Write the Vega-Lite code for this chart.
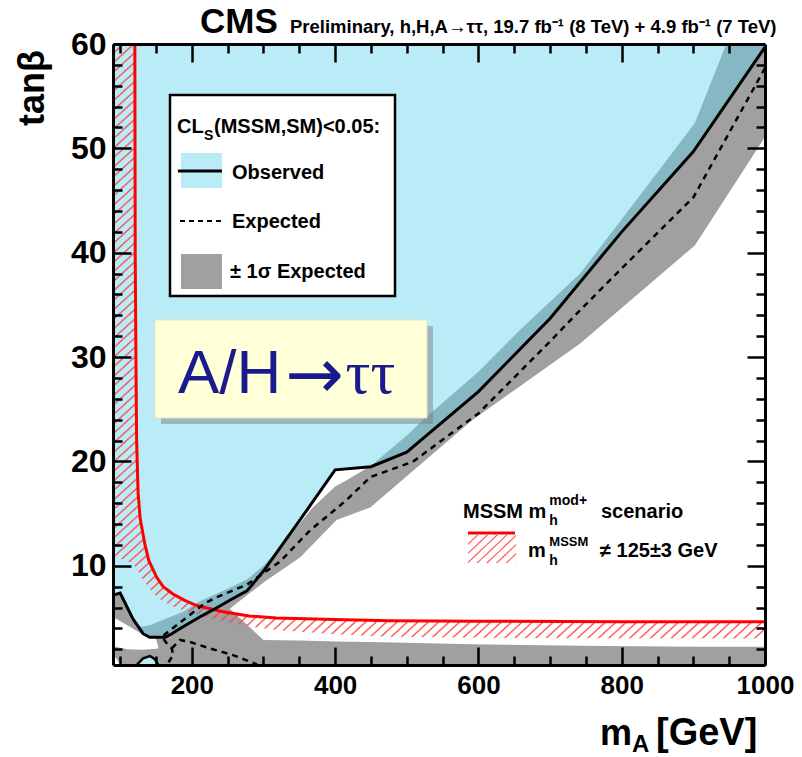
{
"$schema":"https://vega.github.io/schema/vega-lite/v6.json",
"width":652,"height":621,
"autosize":{"type":"none"},
"padding":{"left":113,"top":44,"right":37,"bottom":92},
"background":"white",
"config":{"view":{"stroke":null},"axis":{"disable":true},"font":"Liberation Sans","text":{"font":"Liberation Sans","color":"black"}},
"resolve":{"axis":{"x":"independent","y":"independent"}},
"datasets":{
"band":[{"m":90,"u":7.2},{"m":100,"u":7.35},{"m":118,"u":4.85},{"m":127,"u":4.15},{"m":141,"u":4.3},{"m":188,"u":5.6},{"m":211,"u":6.6},{"m":253,"u":7.9},{"m":277,"u":8.7},{"m":300,"u":10.0},{"m":323,"u":11.7},{"m":337,"u":12.9},{"m":369,"u":15.6},{"m":400,"u":17.6},{"m":416,"u":18.2},{"m":450,"u":19.6},{"m":500,"u":22.5},{"m":528,"u":24.3},{"m":600,"u":28.6},{"m":658,"u":32.6},{"m":700,"u":35.3},{"m":742,"u":38.0},{"m":800,"u":43.2},{"m":902,"u":52.4},{"m":946,"u":60},{"m":1000,"u":60}],
"gap":[{"m":253,"lo":5.9,"hi":5.9},{"m":300,"lo":2.9,"hi":8.4},{"m":351,"lo":2.85,"hi":10.8},{"m":402,"lo":2.75,"hi":14.4},{"m":449,"lo":2.7,"hi":15.6},{"m":592,"lo":2.5,"hi":24.0},{"m":742,"lo":2.35,"hi":31.3},{"m":902,"lo":2.25,"hi":40.7},{"m":1000,"lo":2.25,"hi":51.1}],
"gap2":[{"m":90,"lo":2.3,"hi":5.1},{"m":110,"lo":2.0,"hi":4.3},{"m":132,"lo":1.95,"hi":3.4},{"m":141,"lo":2.0,"hi":3.1},{"m":150,"lo":2.05,"hi":3.05},{"m":153.5,"lo":2.1,"hi":2.1}],
"corner":[{"m":90,"lo":0.5,"hi":1.4},{"m":95,"lo":0.5,"hi":1.1},{"m":100,"lo":0.5,"hi":0.5}],
"obs":[{"m":90,"t":7.2},{"m":100,"t":7.4},{"m":118,"t":4.9},{"m":132,"t":3.5},{"m":141,"t":3.15},{"m":163,"t":3.15},{"m":172,"t":3.5},{"m":186,"t":4.1},{"m":211,"t":5.1},{"m":230,"t":5.8},{"m":253,"t":6.7},{"m":277,"t":7.6},{"m":300,"t":9.5},{"m":350,"t":14.3},{"m":400,"t":19.2},{"m":450,"t":19.5},{"m":500,"t":20.9},{"m":600,"t":26.7},{"m":700,"t":33.7},{"m":800,"t":42.0},{"m":900,"t":49.7},{"m":1000,"t":59.7}],
"island":[{"m":123,"t":0.5},{"m":132,"t":1.14},{"m":141.6,"t":1.36},{"m":148.6,"t":1.05},{"m":153.2,"t":0.5}],
"hatch":[{"m":90,"top":60,"bot":10.8},{"m":105,"top":60,"bot":10.6},{"m":118,"top":60,"bot":10.2},{"m":120.5,"top":60,"bot":10.0},{"m":121,"top":40,"bot":9.95},{"m":122,"top":30,"bot":9.85},{"m":123,"top":22,"bot":9.7},{"m":125,"top":17,"bot":9.5},{"m":128,"top":14.5,"bot":9.1},{"m":134.7,"top":12,"bot":8.4},{"m":140,"top":10.5,"bot":7.9},{"m":151,"top":8.9,"bot":7.05},{"m":160,"top":8.0,"bot":6.6},{"m":173.7,"top":7.3,"bot":6.1},{"m":190,"top":6.7,"bot":5.7},{"m":206.8,"top":6.2,"bot":5.35},{"m":243.5,"top":5.6,"bot":4.65},{"m":280,"top":5.2,"bot":4.2},{"m":318,"top":5.0,"bot":3.85},{"m":400,"top":4.85,"bot":3.45},{"m":476.6,"top":4.75,"bot":3.2},{"m":600,"top":4.7,"bot":3.1},{"m":800,"top":4.65,"bot":3.07},{"m":1000,"top":4.65,"bot":3.05}],
"red":[{"m":120.5,"t":60},{"m":121,"t":40},{"m":122,"t":30},{"m":123,"t":22},{"m":125,"t":17},{"m":128,"t":14.5},{"m":134.7,"t":12},{"m":140,"t":10.5},{"m":151,"t":8.9},{"m":160,"t":8.0},{"m":173.7,"t":7.3},{"m":190,"t":6.7},{"m":206.8,"t":6.2},{"m":243.5,"t":5.6},{"m":280,"t":5.2},{"m":318,"t":5.0},{"m":400,"t":4.85},{"m":476.6,"t":4.75},{"m":600,"t":4.7},{"m":800,"t":4.65},{"m":1000,"t":4.65}],
"exp1":[{"i":1,"m":1000,"t":57.7},{"i":2,"m":900,"t":45.3},{"i":3,"m":800,"t":38.5},{"i":4,"m":742,"t":34.5},{"i":5,"m":700,"t":31.5},{"i":6,"m":600,"t":24.6},{"i":7,"m":509,"t":20.0},{"i":8,"m":449,"t":18.5},{"i":9,"m":416,"t":16.3},{"i":10,"m":365,"t":13.4},{"i":11,"m":323,"t":10.4},{"i":12,"m":277,"t":8.2},{"i":13,"m":235,"t":7.0},{"i":14,"m":218,"t":6.4},{"i":15,"m":190,"t":4.9},{"i":16,"m":158,"t":3.2},{"i":17,"m":167,"t":2.4},{"i":18,"m":172,"t":2.1},{"i":19,"m":174,"t":1.45},{"i":20,"m":165,"t":0.5}],
"exp2":[{"m":172,"t":2.1},{"m":183.5,"t":2.9},{"m":197.5,"t":2.7},{"m":225,"t":2.1},{"m":257.5,"t":1.45},{"m":291,"t":0.55}]
},
"layer":[
{"data":{"name":"band"},"mark":{"type":"area","color":"#a0a0a0","opacity":1},
 "encoding":{"x":{"field":"m","type":"quantitative","scale":{"domain":[90,1000],"nice":false,"zero":false},
   "axis":{"orient":"bottom","values":[200,400,600,800,1000],"format":"d","tickSize":-18,"tickWidth":2.5,"tickColor":"black","domain":true,"domainWidth":3,"domainColor":"black","grid":false,"title":null,"labelFont":"Liberation Sans","labelFontSize":26,"labelFontWeight":"bold","labelColor":"black","labelPadding":25,"labelFlush":false,"labelOverlap":false,"labelBound":false,"zindex":1}},
  "y":{"field":"u","type":"quantitative","scale":{"domain":[0.5,60],"nice":false,"zero":false},
   "axis":{"orient":"left","values":[10,20,30,40,50,60],"format":"d","tickSize":-18,"tickWidth":2.5,"tickColor":"black","domain":true,"domainWidth":3,"domainColor":"black","grid":false,"title":null,"labelFont":"Liberation Sans","labelFontSize":32,"labelFontWeight":"bold","labelColor":"black","labelPadding":25,"labelFlush":false,"labelOverlap":false,"labelBound":false,"zindex":1}},
  "y2":{"datum":0.5}}},
{"data":{"name":"gap"},"mark":{"type":"area","color":"white","opacity":1},
 "encoding":{"x":{"field":"m","type":"quantitative",
   "axis":{"orient":"top","values":[200,400,600,800],"tickSize":-18,"tickWidth":2.5,"tickColor":"black","labels":false,"domain":true,"domainWidth":3,"domainColor":"black","grid":false,"title":null,"zindex":1}},
  "y":{"field":"hi","type":"quantitative",
   "axis":{"orient":"right","values":[10,20,30,40,50],"tickSize":-18,"tickWidth":2.5,"tickColor":"black","labels":false,"domain":true,"domainWidth":3,"domainColor":"black","grid":false,"title":null,"zindex":1}},
  "y2":{"field":"lo"}}},
{"data":{"name":"gap2"},"mark":{"type":"area","color":"white","opacity":1},
 "encoding":{"x":{"field":"m","type":"quantitative",
   "axis":{"orient":"bottom","values":[100,150,250,300,350,450,500,550,650,700,750,850,900,950],"tickSize":-9,"tickWidth":2.5,"tickColor":"black","labels":false,"domain":false,"grid":false,"title":null,"zindex":1}},
  "y":{"field":"hi","type":"quantitative",
   "axis":{"orient":"left","values":[2,4,6,8,12,14,16,18,22,24,26,28,32,34,36,38,42,44,46,48,52,54,56,58],"tickSize":-9,"tickWidth":2.5,"tickColor":"black","labels":false,"domain":false,"grid":false,"title":null,"zindex":1}},
  "y2":{"field":"lo"}}},
{"data":{"name":"corner"},"mark":{"type":"area","color":"white","opacity":1},
 "encoding":{"x":{"field":"m","type":"quantitative",
   "axis":{"orient":"top","values":[100,150,250,300,350,450,500,550,650,700,750,850,900,950],"tickSize":-9,"tickWidth":2.5,"tickColor":"black","labels":false,"domain":false,"grid":false,"title":null,"zindex":1}},
  "y":{"field":"hi","type":"quantitative",
   "axis":{"orient":"right","values":[2,4,6,8,12,14,16,18,22,24,26,28,32,34,36,38,42,44,46,48,52,54,56,58],"tickSize":-9,"tickWidth":2.5,"tickColor":"black","labels":false,"domain":false,"grid":false,"title":null,"zindex":1}},
  "y2":{"field":"lo"}}},
{"data":{"name":"obs"},"mark":{"type":"area","color":"#64d5ed","opacity":0.45},
 "encoding":{"x":{"field":"m","type":"quantitative"},"y":{"field":"t","type":"quantitative"},"y2":{"datum":60}}},
{"data":{"name":"island"},"mark":{"type":"area","color":"#b9ecf7","opacity":1},
 "encoding":{"x":{"field":"m","type":"quantitative"},"y":{"field":"t","type":"quantitative"},"y2":{"datum":0.5}}},
{"data":{"name":"hatch"},"mark":{"type":"area","opacity":1,"fill":{"gradient":"linear","x1":0,"y1":0,"x2":1,"y2":1,"stops":[
{"offset":0,"color":"#ff4848"},{"offset":0.0015,"color":"rgba(255,72,72,0)"},{"offset":0.0065,"color":"rgba(255,72,72,0)"},
{"offset":0.008,"color":"#ff4848"},{"offset":0.0095,"color":"rgba(255,72,72,0)"},{"offset":0.0145,"color":"rgba(255,72,72,0)"},
{"offset":0.016,"color":"#ff4848"},{"offset":0.0175,"color":"rgba(255,72,72,0)"},{"offset":0.0225,"color":"rgba(255,72,72,0)"},
{"offset":0.024,"color":"#ff4848"},{"offset":0.0255,"color":"rgba(255,72,72,0)"},{"offset":0.0305,"color":"rgba(255,72,72,0)"},
{"offset":0.032,"color":"#ff4848"},{"offset":0.0335,"color":"rgba(255,72,72,0)"},{"offset":0.0385,"color":"rgba(255,72,72,0)"},
{"offset":0.04,"color":"#ff4848"},{"offset":0.0415,"color":"rgba(255,72,72,0)"},{"offset":0.0465,"color":"rgba(255,72,72,0)"},
{"offset":0.048,"color":"#ff4848"},{"offset":0.0495,"color":"rgba(255,72,72,0)"},{"offset":0.0545,"color":"rgba(255,72,72,0)"},
{"offset":0.056,"color":"#ff4848"},{"offset":0.0575,"color":"rgba(255,72,72,0)"},{"offset":0.0625,"color":"rgba(255,72,72,0)"},
{"offset":0.064,"color":"#ff4848"},{"offset":0.0655,"color":"rgba(255,72,72,0)"},{"offset":0.0705,"color":"rgba(255,72,72,0)"},
{"offset":0.072,"color":"#ff4848"},{"offset":0.0735,"color":"rgba(255,72,72,0)"},{"offset":0.0785,"color":"rgba(255,72,72,0)"},
{"offset":0.08,"color":"#ff4848"},{"offset":0.0815,"color":"rgba(255,72,72,0)"},{"offset":0.0865,"color":"rgba(255,72,72,0)"},
{"offset":0.088,"color":"#ff4848"},{"offset":0.0895,"color":"rgba(255,72,72,0)"},{"offset":0.0945,"color":"rgba(255,72,72,0)"},
{"offset":0.096,"color":"#ff4848"},{"offset":0.0975,"color":"rgba(255,72,72,0)"},{"offset":0.1025,"color":"rgba(255,72,72,0)"},
{"offset":0.104,"color":"#ff4848"},{"offset":0.1055,"color":"rgba(255,72,72,0)"},{"offset":0.1105,"color":"rgba(255,72,72,0)"},
{"offset":0.112,"color":"#ff4848"},{"offset":0.1135,"color":"rgba(255,72,72,0)"},{"offset":0.1185,"color":"rgba(255,72,72,0)"},
{"offset":0.12,"color":"#ff4848"},{"offset":0.1215,"color":"rgba(255,72,72,0)"},{"offset":0.1265,"color":"rgba(255,72,72,0)"},
{"offset":0.128,"color":"#ff4848"},{"offset":0.1295,"color":"rgba(255,72,72,0)"},{"offset":0.1345,"color":"rgba(255,72,72,0)"},
{"offset":0.136,"color":"#ff4848"},{"offset":0.1375,"color":"rgba(255,72,72,0)"},{"offset":0.1425,"color":"rgba(255,72,72,0)"},
{"offset":0.144,"color":"#ff4848"},{"offset":0.1455,"color":"rgba(255,72,72,0)"},{"offset":0.1505,"color":"rgba(255,72,72,0)"},
{"offset":0.152,"color":"#ff4848"},{"offset":0.1535,"color":"rgba(255,72,72,0)"},{"offset":0.1585,"color":"rgba(255,72,72,0)"},
{"offset":0.16,"color":"#ff4848"},{"offset":0.1615,"color":"rgba(255,72,72,0)"},{"offset":0.1665,"color":"rgba(255,72,72,0)"},
{"offset":0.168,"color":"#ff4848"},{"offset":0.1695,"color":"rgba(255,72,72,0)"},{"offset":0.1745,"color":"rgba(255,72,72,0)"},
{"offset":0.176,"color":"#ff4848"},{"offset":0.1775,"color":"rgba(255,72,72,0)"},{"offset":0.1825,"color":"rgba(255,72,72,0)"},
{"offset":0.184,"color":"#ff4848"},{"offset":0.1855,"color":"rgba(255,72,72,0)"},{"offset":0.1905,"color":"rgba(255,72,72,0)"},
{"offset":0.192,"color":"#ff4848"},{"offset":0.1935,"color":"rgba(255,72,72,0)"},{"offset":0.1985,"color":"rgba(255,72,72,0)"},
{"offset":0.2,"color":"#ff4848"},{"offset":0.2015,"color":"rgba(255,72,72,0)"},{"offset":0.2065,"color":"rgba(255,72,72,0)"},
{"offset":0.208,"color":"#ff4848"},{"offset":0.2095,"color":"rgba(255,72,72,0)"},{"offset":0.2145,"color":"rgba(255,72,72,0)"},
{"offset":0.216,"color":"#ff4848"},{"offset":0.2175,"color":"rgba(255,72,72,0)"},{"offset":0.2225,"color":"rgba(255,72,72,0)"},
{"offset":0.224,"color":"#ff4848"},{"offset":0.2255,"color":"rgba(255,72,72,0)"},{"offset":0.2305,"color":"rgba(255,72,72,0)"},
{"offset":0.232,"color":"#ff4848"},{"offset":0.2335,"color":"rgba(255,72,72,0)"},{"offset":0.2385,"color":"rgba(255,72,72,0)"},
{"offset":0.24,"color":"#ff4848"},{"offset":0.2415,"color":"rgba(255,72,72,0)"},{"offset":0.2465,"color":"rgba(255,72,72,0)"},
{"offset":0.248,"color":"#ff4848"},{"offset":0.2495,"color":"rgba(255,72,72,0)"},{"offset":0.2545,"color":"rgba(255,72,72,0)"},
{"offset":0.256,"color":"#ff4848"},{"offset":0.2575,"color":"rgba(255,72,72,0)"},{"offset":0.2625,"color":"rgba(255,72,72,0)"},
{"offset":0.264,"color":"#ff4848"},{"offset":0.2655,"color":"rgba(255,72,72,0)"},{"offset":0.2705,"color":"rgba(255,72,72,0)"},
{"offset":0.272,"color":"#ff4848"},{"offset":0.2735,"color":"rgba(255,72,72,0)"},{"offset":0.2785,"color":"rgba(255,72,72,0)"},
{"offset":0.28,"color":"#ff4848"},{"offset":0.2815,"color":"rgba(255,72,72,0)"},{"offset":0.2865,"color":"rgba(255,72,72,0)"},
{"offset":0.288,"color":"#ff4848"},{"offset":0.2895,"color":"rgba(255,72,72,0)"},{"offset":0.2945,"color":"rgba(255,72,72,0)"},
{"offset":0.296,"color":"#ff4848"},{"offset":0.2975,"color":"rgba(255,72,72,0)"},{"offset":0.3025,"color":"rgba(255,72,72,0)"},
{"offset":0.304,"color":"#ff4848"},{"offset":0.3055,"color":"rgba(255,72,72,0)"},{"offset":0.3105,"color":"rgba(255,72,72,0)"},
{"offset":0.312,"color":"#ff4848"},{"offset":0.3135,"color":"rgba(255,72,72,0)"},{"offset":0.3185,"color":"rgba(255,72,72,0)"},
{"offset":0.32,"color":"#ff4848"},{"offset":0.3215,"color":"rgba(255,72,72,0)"},{"offset":0.3265,"color":"rgba(255,72,72,0)"},
{"offset":0.328,"color":"#ff4848"},{"offset":0.3295,"color":"rgba(255,72,72,0)"},{"offset":0.3345,"color":"rgba(255,72,72,0)"},
{"offset":0.336,"color":"#ff4848"},{"offset":0.3375,"color":"rgba(255,72,72,0)"},{"offset":0.3425,"color":"rgba(255,72,72,0)"},
{"offset":0.344,"color":"#ff4848"},{"offset":0.3455,"color":"rgba(255,72,72,0)"},{"offset":0.3505,"color":"rgba(255,72,72,0)"},
{"offset":0.352,"color":"#ff4848"},{"offset":0.3535,"color":"rgba(255,72,72,0)"},{"offset":0.3585,"color":"rgba(255,72,72,0)"},
{"offset":0.36,"color":"#ff4848"},{"offset":0.3615,"color":"rgba(255,72,72,0)"},{"offset":0.3665,"color":"rgba(255,72,72,0)"},
{"offset":0.368,"color":"#ff4848"},{"offset":0.3695,"color":"rgba(255,72,72,0)"},{"offset":0.3745,"color":"rgba(255,72,72,0)"},
{"offset":0.376,"color":"#ff4848"},{"offset":0.3775,"color":"rgba(255,72,72,0)"},{"offset":0.3825,"color":"rgba(255,72,72,0)"},
{"offset":0.384,"color":"#ff4848"},{"offset":0.3855,"color":"rgba(255,72,72,0)"},{"offset":0.3905,"color":"rgba(255,72,72,0)"},
{"offset":0.392,"color":"#ff4848"},{"offset":0.3935,"color":"rgba(255,72,72,0)"},{"offset":0.3985,"color":"rgba(255,72,72,0)"},
{"offset":0.4,"color":"#ff4848"},{"offset":0.4015,"color":"rgba(255,72,72,0)"},{"offset":0.4065,"color":"rgba(255,72,72,0)"},
{"offset":0.408,"color":"#ff4848"},{"offset":0.4095,"color":"rgba(255,72,72,0)"},{"offset":0.4145,"color":"rgba(255,72,72,0)"},
{"offset":0.416,"color":"#ff4848"},{"offset":0.4175,"color":"rgba(255,72,72,0)"},{"offset":0.4225,"color":"rgba(255,72,72,0)"},
{"offset":0.424,"color":"#ff4848"},{"offset":0.4255,"color":"rgba(255,72,72,0)"},{"offset":0.4305,"color":"rgba(255,72,72,0)"},
{"offset":0.432,"color":"#ff4848"},{"offset":0.4335,"color":"rgba(255,72,72,0)"},{"offset":0.4385,"color":"rgba(255,72,72,0)"},
{"offset":0.44,"color":"#ff4848"},{"offset":0.4415,"color":"rgba(255,72,72,0)"},{"offset":0.4465,"color":"rgba(255,72,72,0)"},
{"offset":0.448,"color":"#ff4848"},{"offset":0.4495,"color":"rgba(255,72,72,0)"},{"offset":0.4545,"color":"rgba(255,72,72,0)"},
{"offset":0.456,"color":"#ff4848"},{"offset":0.4575,"color":"rgba(255,72,72,0)"},{"offset":0.4625,"color":"rgba(255,72,72,0)"},
{"offset":0.464,"color":"#ff4848"},{"offset":0.4655,"color":"rgba(255,72,72,0)"},{"offset":0.4705,"color":"rgba(255,72,72,0)"},
{"offset":0.472,"color":"#ff4848"},{"offset":0.4735,"color":"rgba(255,72,72,0)"},{"offset":0.4785,"color":"rgba(255,72,72,0)"},
{"offset":0.48,"color":"#ff4848"},{"offset":0.4815,"color":"rgba(255,72,72,0)"},{"offset":0.4865,"color":"rgba(255,72,72,0)"},
{"offset":0.488,"color":"#ff4848"},{"offset":0.4895,"color":"rgba(255,72,72,0)"},{"offset":0.4945,"color":"rgba(255,72,72,0)"},
{"offset":0.496,"color":"#ff4848"},{"offset":0.4975,"color":"rgba(255,72,72,0)"},{"offset":0.5025,"color":"rgba(255,72,72,0)"},
{"offset":0.504,"color":"#ff4848"},{"offset":0.5055,"color":"rgba(255,72,72,0)"},{"offset":0.5105,"color":"rgba(255,72,72,0)"},
{"offset":0.512,"color":"#ff4848"},{"offset":0.5135,"color":"rgba(255,72,72,0)"},{"offset":0.5185,"color":"rgba(255,72,72,0)"},
{"offset":0.52,"color":"#ff4848"},{"offset":0.5215,"color":"rgba(255,72,72,0)"},{"offset":0.5265,"color":"rgba(255,72,72,0)"},
{"offset":0.528,"color":"#ff4848"},{"offset":0.5295,"color":"rgba(255,72,72,0)"},{"offset":0.5345,"color":"rgba(255,72,72,0)"},
{"offset":0.536,"color":"#ff4848"},{"offset":0.5375,"color":"rgba(255,72,72,0)"},{"offset":0.5425,"color":"rgba(255,72,72,0)"},
{"offset":0.544,"color":"#ff4848"},{"offset":0.5455,"color":"rgba(255,72,72,0)"},{"offset":0.5505,"color":"rgba(255,72,72,0)"},
{"offset":0.552,"color":"#ff4848"},{"offset":0.5535,"color":"rgba(255,72,72,0)"},{"offset":0.5585,"color":"rgba(255,72,72,0)"},
{"offset":0.56,"color":"#ff4848"},{"offset":0.5615,"color":"rgba(255,72,72,0)"},{"offset":0.5665,"color":"rgba(255,72,72,0)"},
{"offset":0.568,"color":"#ff4848"},{"offset":0.5695,"color":"rgba(255,72,72,0)"},{"offset":0.5745,"color":"rgba(255,72,72,0)"},
{"offset":0.576,"color":"#ff4848"},{"offset":0.5775,"color":"rgba(255,72,72,0)"},{"offset":0.5825,"color":"rgba(255,72,72,0)"},
{"offset":0.584,"color":"#ff4848"},{"offset":0.5855,"color":"rgba(255,72,72,0)"},{"offset":0.5905,"color":"rgba(255,72,72,0)"},
{"offset":0.592,"color":"#ff4848"},{"offset":0.5935,"color":"rgba(255,72,72,0)"},{"offset":0.5985,"color":"rgba(255,72,72,0)"},
{"offset":0.6,"color":"#ff4848"},{"offset":0.6015,"color":"rgba(255,72,72,0)"},{"offset":0.6065,"color":"rgba(255,72,72,0)"},
{"offset":0.608,"color":"#ff4848"},{"offset":0.6095,"color":"rgba(255,72,72,0)"},{"offset":0.6145,"color":"rgba(255,72,72,0)"},
{"offset":0.616,"color":"#ff4848"},{"offset":0.6175,"color":"rgba(255,72,72,0)"},{"offset":0.6225,"color":"rgba(255,72,72,0)"},
{"offset":0.624,"color":"#ff4848"},{"offset":0.6255,"color":"rgba(255,72,72,0)"},{"offset":0.6305,"color":"rgba(255,72,72,0)"},
{"offset":0.632,"color":"#ff4848"},{"offset":0.6335,"color":"rgba(255,72,72,0)"},{"offset":0.6385,"color":"rgba(255,72,72,0)"},
{"offset":0.64,"color":"#ff4848"},{"offset":0.6415,"color":"rgba(255,72,72,0)"},{"offset":0.6465,"color":"rgba(255,72,72,0)"},
{"offset":0.648,"color":"#ff4848"},{"offset":0.6495,"color":"rgba(255,72,72,0)"},{"offset":0.6545,"color":"rgba(255,72,72,0)"},
{"offset":0.656,"color":"#ff4848"},{"offset":0.6575,"color":"rgba(255,72,72,0)"},{"offset":0.6625,"color":"rgba(255,72,72,0)"},
{"offset":0.664,"color":"#ff4848"},{"offset":0.6655,"color":"rgba(255,72,72,0)"},{"offset":0.6705,"color":"rgba(255,72,72,0)"},
{"offset":0.672,"color":"#ff4848"},{"offset":0.6735,"color":"rgba(255,72,72,0)"},{"offset":0.6785,"color":"rgba(255,72,72,0)"},
{"offset":0.68,"color":"#ff4848"},{"offset":0.6815,"color":"rgba(255,72,72,0)"},{"offset":0.6865,"color":"rgba(255,72,72,0)"},
{"offset":0.688,"color":"#ff4848"},{"offset":0.6895,"color":"rgba(255,72,72,0)"},{"offset":0.6945,"color":"rgba(255,72,72,0)"},
{"offset":0.696,"color":"#ff4848"},{"offset":0.6975,"color":"rgba(255,72,72,0)"},{"offset":0.7025,"color":"rgba(255,72,72,0)"},
{"offset":0.704,"color":"#ff4848"},{"offset":0.7055,"color":"rgba(255,72,72,0)"},{"offset":0.7105,"color":"rgba(255,72,72,0)"},
{"offset":0.712,"color":"#ff4848"},{"offset":0.7135,"color":"rgba(255,72,72,0)"},{"offset":0.7185,"color":"rgba(255,72,72,0)"},
{"offset":0.72,"color":"#ff4848"},{"offset":0.7215,"color":"rgba(255,72,72,0)"},{"offset":0.7265,"color":"rgba(255,72,72,0)"},
{"offset":0.728,"color":"#ff4848"},{"offset":0.7295,"color":"rgba(255,72,72,0)"},{"offset":0.7345,"color":"rgba(255,72,72,0)"},
{"offset":0.736,"color":"#ff4848"},{"offset":0.7375,"color":"rgba(255,72,72,0)"},{"offset":0.7425,"color":"rgba(255,72,72,0)"},
{"offset":0.744,"color":"#ff4848"},{"offset":0.7455,"color":"rgba(255,72,72,0)"},{"offset":0.7505,"color":"rgba(255,72,72,0)"},
{"offset":0.752,"color":"#ff4848"},{"offset":0.7535,"color":"rgba(255,72,72,0)"},{"offset":0.7585,"color":"rgba(255,72,72,0)"},
{"offset":0.76,"color":"#ff4848"},{"offset":0.7615,"color":"rgba(255,72,72,0)"},{"offset":0.7665,"color":"rgba(255,72,72,0)"},
{"offset":0.768,"color":"#ff4848"},{"offset":0.7695,"color":"rgba(255,72,72,0)"},{"offset":0.7745,"color":"rgba(255,72,72,0)"},
{"offset":0.776,"color":"#ff4848"},{"offset":0.7775,"color":"rgba(255,72,72,0)"},{"offset":0.7825,"color":"rgba(255,72,72,0)"},
{"offset":0.784,"color":"#ff4848"},{"offset":0.7855,"color":"rgba(255,72,72,0)"},{"offset":0.7905,"color":"rgba(255,72,72,0)"},
{"offset":0.792,"color":"#ff4848"},{"offset":0.7935,"color":"rgba(255,72,72,0)"},{"offset":0.7985,"color":"rgba(255,72,72,0)"},
{"offset":0.8,"color":"#ff4848"},{"offset":0.8015,"color":"rgba(255,72,72,0)"},{"offset":0.8065,"color":"rgba(255,72,72,0)"},
{"offset":0.808,"color":"#ff4848"},{"offset":0.8095,"color":"rgba(255,72,72,0)"},{"offset":0.8145,"color":"rgba(255,72,72,0)"},
{"offset":0.816,"color":"#ff4848"},{"offset":0.8175,"color":"rgba(255,72,72,0)"},{"offset":0.8225,"color":"rgba(255,72,72,0)"},
{"offset":0.824,"color":"#ff4848"},{"offset":0.8255,"color":"rgba(255,72,72,0)"},{"offset":0.8305,"color":"rgba(255,72,72,0)"},
{"offset":0.832,"color":"#ff4848"},{"offset":0.8335,"color":"rgba(255,72,72,0)"},{"offset":0.8385,"color":"rgba(255,72,72,0)"},
{"offset":0.84,"color":"#ff4848"},{"offset":0.8415,"color":"rgba(255,72,72,0)"},{"offset":0.8465,"color":"rgba(255,72,72,0)"},
{"offset":0.848,"color":"#ff4848"},{"offset":0.8495,"color":"rgba(255,72,72,0)"},{"offset":0.8545,"color":"rgba(255,72,72,0)"},
{"offset":0.856,"color":"#ff4848"},{"offset":0.8575,"color":"rgba(255,72,72,0)"},{"offset":0.8625,"color":"rgba(255,72,72,0)"},
{"offset":0.864,"color":"#ff4848"},{"offset":0.8655,"color":"rgba(255,72,72,0)"},{"offset":0.8705,"color":"rgba(255,72,72,0)"},
{"offset":0.872,"color":"#ff4848"},{"offset":0.8735,"color":"rgba(255,72,72,0)"},{"offset":0.8785,"color":"rgba(255,72,72,0)"},
{"offset":0.88,"color":"#ff4848"},{"offset":0.8815,"color":"rgba(255,72,72,0)"},{"offset":0.8865,"color":"rgba(255,72,72,0)"},
{"offset":0.888,"color":"#ff4848"},{"offset":0.8895,"color":"rgba(255,72,72,0)"},{"offset":0.8945,"color":"rgba(255,72,72,0)"},
{"offset":0.896,"color":"#ff4848"},{"offset":0.8975,"color":"rgba(255,72,72,0)"},{"offset":0.9025,"color":"rgba(255,72,72,0)"},
{"offset":0.904,"color":"#ff4848"},{"offset":0.9055,"color":"rgba(255,72,72,0)"},{"offset":0.9105,"color":"rgba(255,72,72,0)"},
{"offset":0.912,"color":"#ff4848"},{"offset":0.9135,"color":"rgba(255,72,72,0)"},{"offset":0.9185,"color":"rgba(255,72,72,0)"},
{"offset":0.92,"color":"#ff4848"},{"offset":0.9215,"color":"rgba(255,72,72,0)"},{"offset":0.9265,"color":"rgba(255,72,72,0)"},
{"offset":0.928,"color":"#ff4848"},{"offset":0.9295,"color":"rgba(255,72,72,0)"},{"offset":0.9345,"color":"rgba(255,72,72,0)"},
{"offset":0.936,"color":"#ff4848"},{"offset":0.9375,"color":"rgba(255,72,72,0)"},{"offset":0.9425,"color":"rgba(255,72,72,0)"},
{"offset":0.944,"color":"#ff4848"},{"offset":0.9455,"color":"rgba(255,72,72,0)"},{"offset":0.9505,"color":"rgba(255,72,72,0)"},
{"offset":0.952,"color":"#ff4848"},{"offset":0.9535,"color":"rgba(255,72,72,0)"},{"offset":0.9585,"color":"rgba(255,72,72,0)"},
{"offset":0.96,"color":"#ff4848"},{"offset":0.9615,"color":"rgba(255,72,72,0)"},{"offset":0.9665,"color":"rgba(255,72,72,0)"},
{"offset":0.968,"color":"#ff4848"},{"offset":0.9695,"color":"rgba(255,72,72,0)"},{"offset":0.9745,"color":"rgba(255,72,72,0)"},
{"offset":0.976,"color":"#ff4848"},{"offset":0.9775,"color":"rgba(255,72,72,0)"},{"offset":0.9825,"color":"rgba(255,72,72,0)"},
{"offset":0.984,"color":"#ff4848"},{"offset":0.9855,"color":"rgba(255,72,72,0)"},{"offset":0.9905,"color":"rgba(255,72,72,0)"},
{"offset":0.992,"color":"#ff4848"},{"offset":0.9935,"color":"rgba(255,72,72,0)"},{"offset":0.9985,"color":"rgba(255,72,72,0)"},
{"offset":1,"color":"#ff4848"}]}},
 "encoding":{"x":{"field":"m","type":"quantitative"},"y":{"field":"top","type":"quantitative"},"y2":{"field":"bot"}}},
{"data":{"name":"red"},"mark":{"type":"line","color":"#ff0000","strokeWidth":3},
 "encoding":{"x":{"field":"m","type":"quantitative"},"y":{"field":"t","type":"quantitative"}}},
{"data":{"name":"exp1"},"mark":{"type":"line","color":"black","strokeWidth":2.5,"strokeDash":[6,5]},
 "encoding":{"x":{"field":"m","type":"quantitative"},"y":{"field":"t","type":"quantitative"},"order":{"field":"i","type":"quantitative"}}},
{"data":{"name":"exp2"},"mark":{"type":"line","color":"black","strokeWidth":2.5,"strokeDash":[6,5]},
 "encoding":{"x":{"field":"m","type":"quantitative"},"y":{"field":"t","type":"quantitative"}}},
{"data":{"name":"obs"},"mark":{"type":"line","color":"black","strokeWidth":3},
 "encoding":{"x":{"field":"m","type":"quantitative"},"y":{"field":"t","type":"quantitative"}}},
{"data":{"name":"island"},"mark":{"type":"line","color":"black","strokeWidth":2.5},
 "encoding":{"x":{"field":"m","type":"quantitative"},"y":{"field":"t","type":"quantitative"}}},
{"data":{"values":[{}]},"mark":{"type":"rect","fill":"white","stroke":"black","strokeWidth":2.5},
 "encoding":{"x":{"datum":169.55},"x2":{"datum":483.6},"y":{"datum":55.11},"y2":{"datum":35.86}}},
{"data":{"values":[{}]},"mark":{"type":"text","text":"CL","align":"left","baseline":"alphabetic","fontSize":20,"fontWeight":"bold"},
 "encoding":{"x":{"datum":179.3},"y":{"datum":51.47}}},
{"data":{"values":[{}]},"mark":{"type":"text","text":"S","align":"left","baseline":"alphabetic","fontSize":14,"fontWeight":"bold"},
 "encoding":{"x":{"datum":217.0},"y":{"datum":50.8}}},
{"data":{"values":[{}]},"mark":{"type":"text","text":"(MSSM,SM)<0.05:","align":"left","baseline":"alphabetic","fontSize":20,"fontWeight":"bold"},
 "encoding":{"x":{"datum":231.0},"y":{"datum":51.47}}},
{"data":{"values":[{}]},"mark":{"type":"rect","fill":"#b9ecf7"},
 "encoding":{"x":{"datum":184.9},"x2":{"datum":242.1},"y":{"datum":49.56},"y2":{"datum":46.2}}},
{"data":{"values":[{}]},"mark":{"type":"rule","color":"black","strokeWidth":3},
 "encoding":{"x":{"datum":180.7},"x2":{"datum":242.1},"y":{"datum":47.83}}},
{"data":{"values":[{}]},"mark":{"type":"text","text":"Observed","align":"left","baseline":"middle","fontSize":20,"fontWeight":"bold"},
 "encoding":{"x":{"datum":256.1},"y":{"datum":47.64}}},
{"data":{"values":[{}]},"mark":{"type":"rule","color":"black","strokeWidth":2,"strokeDash":[5,4]},
 "encoding":{"x":{"datum":183.5},"x2":{"datum":242.1},"y":{"datum":43.04}}},
{"data":{"values":[{}]},"mark":{"type":"text","text":"Expected","align":"left","baseline":"middle","fontSize":20,"fontWeight":"bold"},
 "encoding":{"x":{"datum":256.1},"y":{"datum":42.95}}},
{"data":{"values":[{}]},"mark":{"type":"rect","fill":"#a0a0a0"},
 "encoding":{"x":{"datum":184.9},"x2":{"datum":242.1},"y":{"datum":39.88},"y2":{"datum":36.53}}},
{"data":{"values":[{}]},"mark":{"type":"text","text":"± 1σ Expected","align":"left","baseline":"middle","fontSize":20,"fontWeight":"bold"},
 "encoding":{"x":{"datum":253.3},"y":{"datum":38.16}}},
{"data":{"values":[{}]},"mark":{"type":"rect","fill":"#777777","opacity":0.45},
 "encoding":{"x":{"datum":157.0},"x2":{"datum":536.6},"y":{"datum":32.98},"y2":{"datum":23.59}}},
{"data":{"values":[{}]},"mark":{"type":"rect","fill":"#ffffd8","stroke":"#e6e6c0","strokeWidth":1},
 "encoding":{"x":{"datum":148.6},"x2":{"datum":528.2},"y":{"datum":33.56},"y2":{"datum":24.17}}},
{"data":{"values":[{}]},"mark":{"type":"text","text":"A/H","align":"left","baseline":"alphabetic","fontSize":62,"font":"Liberation Sans","color":"#1a1a8e"},
 "encoding":{"x":{"datum":180.7},"y":{"datum":26.56}}},
{"data":{"values":[{}]},"mark":{"type":"text","text":"→","align":"left","baseline":"alphabetic","fontSize":70,"font":"DejaVu Sans","color":"#1a1a8e"},
 "encoding":{"x":{"datum":330.5},"y":{"datum":26.1}}},
{"data":{"values":[{}]},"mark":{"type":"text","text":"ττ","align":"left","baseline":"alphabetic","fontSize":62,"font":"Liberation Serif","color":"#1a1a8e"},
 "encoding":{"x":{"datum":414.5},"y":{"datum":26.56}}},
{"data":{"values":[{}]},"mark":{"type":"text","text":"MSSM m","align":"left","baseline":"alphabetic","fontSize":20,"fontWeight":"bold"},
 "encoding":{"x":{"datum":578.5},"y":{"datum":14.59}}},
{"data":{"values":[{}]},"mark":{"type":"text","text":"mod+","align":"left","baseline":"alphabetic","fontSize":14,"fontWeight":"bold"},
 "encoding":{"x":{"datum":699},"y":{"datum":15.83}}},
{"data":{"values":[{}]},"mark":{"type":"text","text":"h","align":"left","baseline":"alphabetic","fontSize":14,"fontWeight":"bold"},
 "encoding":{"x":{"datum":699},"y":{"datum":13.92}}},
{"data":{"values":[{}]},"mark":{"type":"text","text":"scenario","align":"left","baseline":"alphabetic","fontSize":20,"fontWeight":"bold"},
 "encoding":{"x":{"datum":771.1},"y":{"datum":14.59}}},
{"data":{"values":[{}]},"mark":{"type":"rule","color":"#ff0000","strokeWidth":3},
 "encoding":{"x":{"datum":585.5},"x2":{"datum":651.1},"y":{"datum":13.15}}},
{"data":{"values":[{}]},"mark":{"type":"rect","fill":{"gradient":"linear","x1":0,"y1":0,"x2":1.171,"y2":0.723,"stops":[
{"offset":0,"color":"#ff4848"},{"offset":0.02,"color":"rgba(255,72,72,0)"},{"offset":0.105,"color":"rgba(255,72,72,0)"},
{"offset":0.125,"color":"#ff4848"},{"offset":0.145,"color":"rgba(255,72,72,0)"},{"offset":0.23,"color":"rgba(255,72,72,0)"},
{"offset":0.25,"color":"#ff4848"},{"offset":0.27,"color":"rgba(255,72,72,0)"},{"offset":0.355,"color":"rgba(255,72,72,0)"},
{"offset":0.375,"color":"#ff4848"},{"offset":0.395,"color":"rgba(255,72,72,0)"},{"offset":0.48,"color":"rgba(255,72,72,0)"},
{"offset":0.5,"color":"#ff4848"},{"offset":0.52,"color":"rgba(255,72,72,0)"},{"offset":0.605,"color":"rgba(255,72,72,0)"},
{"offset":0.625,"color":"#ff4848"},{"offset":0.645,"color":"rgba(255,72,72,0)"},{"offset":0.73,"color":"rgba(255,72,72,0)"},
{"offset":0.75,"color":"#ff4848"},{"offset":0.77,"color":"rgba(255,72,72,0)"},{"offset":0.855,"color":"rgba(255,72,72,0)"},
{"offset":0.875,"color":"#ff4848"},{"offset":0.895,"color":"rgba(255,72,72,0)"},{"offset":0.98,"color":"rgba(255,72,72,0)"},
{"offset":1,"color":"#ff4848"}]}},
 "encoding":{"x":{"datum":585.5},"x2":{"datum":652.5},"y":{"datum":12.96},"y2":{"datum":10.27}}},
{"data":{"values":[{}]},"mark":{"type":"text","text":"m","align":"left","baseline":"alphabetic","fontSize":20,"fontWeight":"bold"},
 "encoding":{"x":{"datum":669.2},"y":{"datum":10.85}}},
{"data":{"values":[{}]},"mark":{"type":"text","text":"MSSM","align":"left","baseline":"alphabetic","fontSize":13,"fontWeight":"bold"},
 "encoding":{"x":{"datum":699},"y":{"datum":11.9}}},
{"data":{"values":[{}]},"mark":{"type":"text","text":"h","align":"left","baseline":"alphabetic","fontSize":14,"fontWeight":"bold"},
 "encoding":{"x":{"datum":699},"y":{"datum":10.08}}},
{"data":{"values":[{}]},"mark":{"type":"text","text":"≠ 125±3 GeV","align":"left","baseline":"alphabetic","fontSize":20,"fontWeight":"bold"},
 "encoding":{"x":{"datum":769.7},"y":{"datum":10.85}}},
{"data":{"values":[{}]},"mark":{"type":"text","text":"CMS","align":"left","baseline":"alphabetic","fontSize":35,"fontWeight":"bold"},
 "encoding":{"x":{"datum":211.4},"y":{"datum":61.05}}},
{"data":{"values":[{}]},"mark":{"type":"text","text":"Preliminary, h,H,A→ττ, 19.7 fb⁻¹ (8 TeV) + 4.9 fb⁻¹ (7 TeV)","align":"left","baseline":"alphabetic","fontSize":18.5,"fontWeight":"bold"},
 "encoding":{"x":{"datum":337.0},"y":{"datum":61.05}}},
{"data":{"values":[{}]},"mark":{"type":"text","text":"m","align":"left","baseline":"alphabetic","fontSize":36,"fontWeight":"bold"},
 "encoding":{"x":{"datum":769.7},"y":{"datum":-7.16}}},
{"data":{"values":[{}]},"mark":{"type":"text","text":"A","align":"left","baseline":"alphabetic","fontSize":24,"fontWeight":"bold"},
 "encoding":{"x":{"datum":814.4},"y":{"datum":-7.83}}},
{"data":{"values":[{}]},"mark":{"type":"text","text":"[GeV]","align":"left","baseline":"alphabetic","fontSize":38,"fontWeight":"bold"},
 "encoding":{"x":{"datum":847.9},"y":{"datum":-7.16}}},
{"data":{"values":[{}]},"mark":{"type":"text","text":"tanβ","align":"center","baseline":"alphabetic","angle":270,"fontSize":36,"fontWeight":"bold"},
 "encoding":{"x":{"datum":-6.3},"y":{"datum":55.78}}}
]
}
